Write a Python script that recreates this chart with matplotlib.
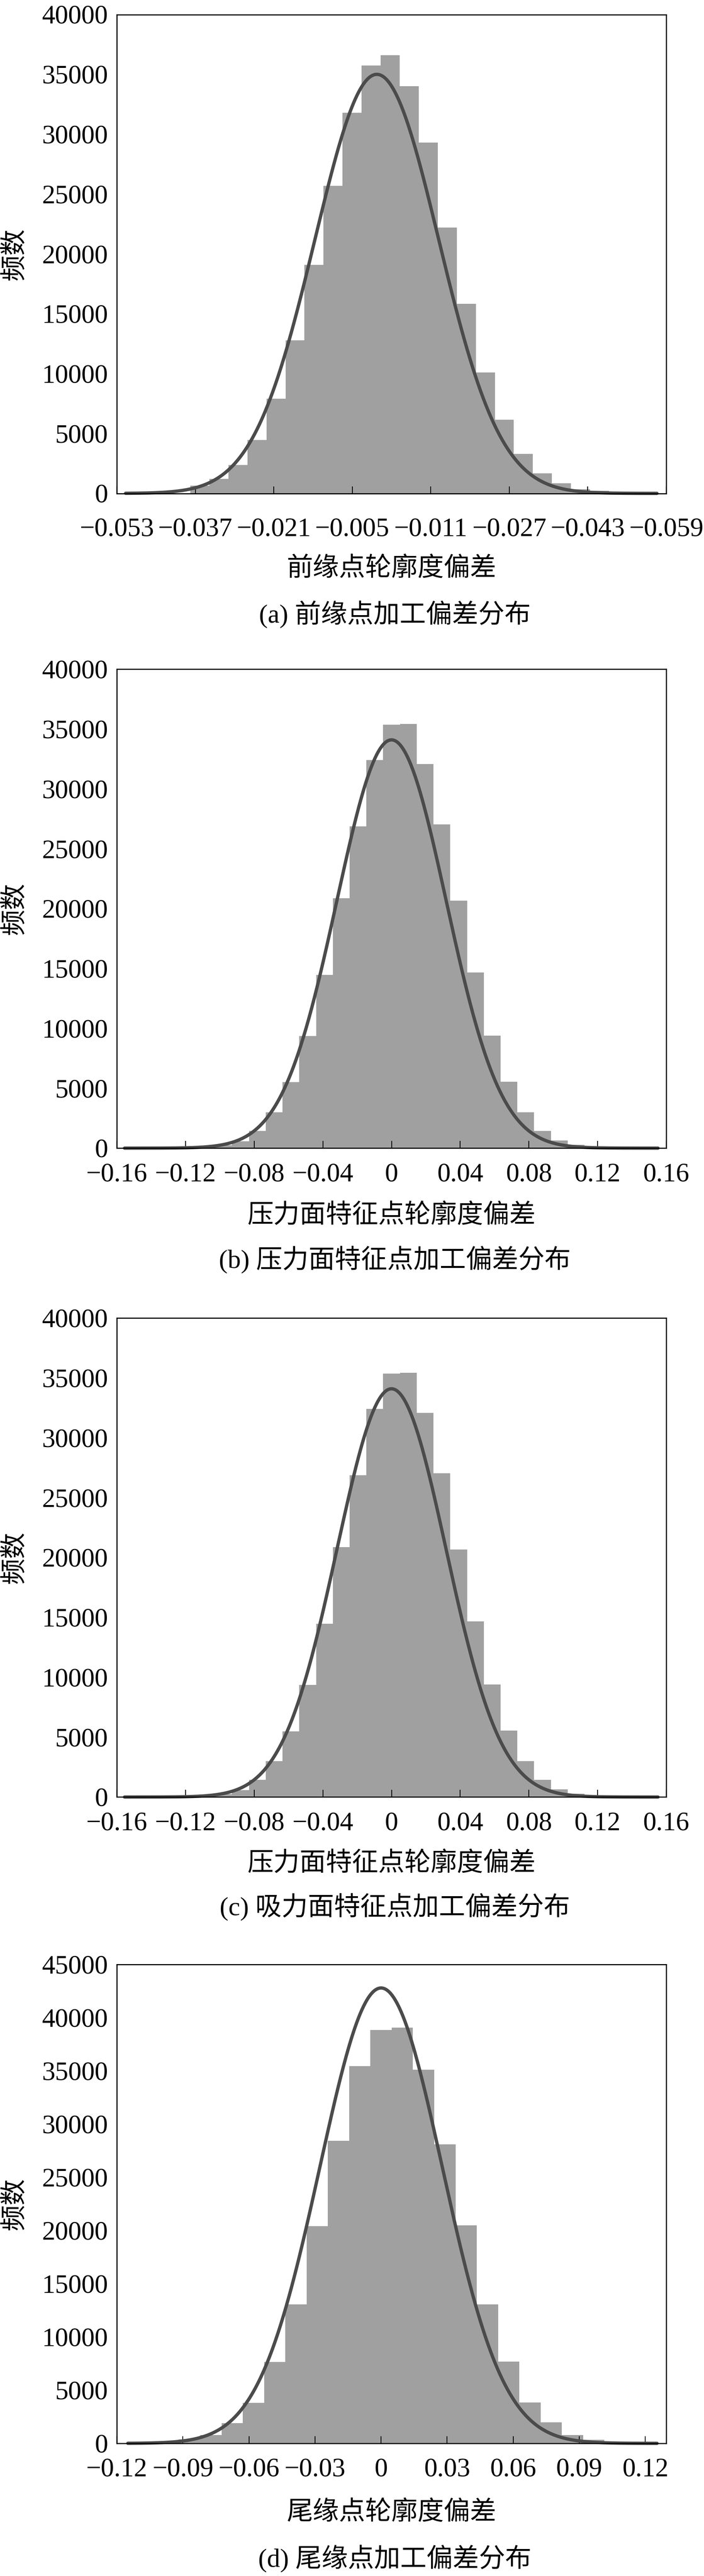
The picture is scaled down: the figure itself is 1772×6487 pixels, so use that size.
import numpy as np
import matplotlib
matplotlib.use('Agg')
import matplotlib.pyplot as plt

plt.rcParams['font.family'] = ['Liberation Serif', 'Noto Sans CJK SC']

W, H = 1772, 6487
DPI = 100
BAR_COLOR = '#a0a0a0'
CURVE_COLOR = '#4b4b4b'
M = '\u2212'

# (a) leading edge
a_counts = [650, 1200, 2380, 4450, 7900, 12800, 19100, 25700, 31800, 35750,
            36600, 34000, 29300, 22200, 15850, 10100, 6150, 3300, 1680, 850,
            360, 200, 90, 40]
a_bin_start = -0.03802
a_bin_width = 0.00388
a_fit = (0.0, 0.0126, 35000)
a_curve_range = (-0.0512, 0.0571)
a_xlim = (-0.053, 0.059)
a_xticks = [-0.053, -0.037, -0.021, -0.005, 0.011, 0.027, 0.043, 0.059]
a_xticklabels = [M + '0.053', M + '0.037', M + '0.021', M + '0.005',
                 M + '0.011', M + '0.027', M + '0.043', M + '0.059']
a_yticks = [0, 5000, 10000, 15000, 20000, 25000, 30000, 35000, 40000]

# (b) pressure side / (c) suction side (same figure in the source)
b_counts = [90, 250, 575, 1440, 2985, 5500, 9350, 14460, 20860, 26870, 32410,
            35360, 35430, 32090, 27050, 20680, 14680, 9390, 5540, 2985, 1440,
            650, 290, 100]
b_bin_start = -0.11234
b_bin_width = 0.00977
b_fit = (0.0, 0.0318, 34100)
b_curve_range = (-0.1555, 0.1552)
b_xlim = (-0.16, 0.16)
b_xticks = [-0.16, -0.12, -0.08, -0.04, 0, 0.04, 0.08, 0.12, 0.16]
b_xticklabels = [M + '0.16', M + '0.12', M + '0.08', M + '0.04', '0',
                 '0.04', '0.08', '0.12', '0.16']
b_yticks = [0, 5000, 10000, 15000, 20000, 25000, 30000, 35000, 40000]

c_counts = b_counts
c_fit = b_fit

# (d) trailing edge
d_counts = [380, 800, 1910, 3790, 7650, 13050, 20400, 28430, 35440, 38840,
            39070, 35130, 28090, 20470, 13050, 7690, 3830, 1990, 765, 340, 100]
d_bin_start = -0.09177
d_bin_width = 0.00966
d_fit = (0.0, 0.0278, 42790)
d_curve_range = (-0.115, 0.1253)
d_xlim = (-0.12, 0.1295)
d_xticks = [-0.12, -0.09, -0.06, -0.03, 0, 0.03, 0.06, 0.09, 0.12]
d_xticklabels = [M + '0.12', M + '0.09', M + '0.06', M + '0.03', '0',
                 '0.03', '0.06', '0.09', '0.12']
d_yticks = [0, 5000, 10000, 15000, 20000, 25000, 30000, 35000, 40000, 45000]

xlabels = ['前缘点轮廓度偏差', '压力面特征点轮廓度偏差',
           '压力面特征点轮廓度偏差', '尾缘点轮廓度偏差']
captions = ['(a) 前缘点加工偏差分布', '(b) 压力面特征点加工偏差分布',
            '(c) 吸力面特征点加工偏差分布', '(d) 尾缘点加工偏差分布']

fig = plt.figure(figsize=(W / DPI, H / DPI), dpi=DPI)

AX_LEFT, AX_RIGHT, AX_H = 294, 1677, 1206


def draw_panel(bottom_px, counts, bin_start, bin_width, fit, curve_range,
               xlim, xticks, xticklabels, yticks, xpad,
               xlabel, xlabel_y, caption, caption_y):
    ax = fig.add_axes([AX_LEFT / W, 1 - bottom_px / H,
                       (AX_RIGHT - AX_LEFT) / W, AX_H / H])
    edges = bin_start + bin_width * np.arange(len(counts))
    ax.bar(edges, counts, width=bin_width, align='edge', color=BAR_COLOR,
           linewidth=0, zorder=1)
    mu, sigma, peak = fit
    xs = np.linspace(curve_range[0], curve_range[1], 600)
    ax.plot(xs, peak * np.exp(-0.5 * ((xs - mu) / sigma) ** 2),
            color=CURVE_COLOR, lw=6, zorder=2, clip_on=False,
            solid_capstyle='round')
    ax.set_xlim(*xlim)
    ax.set_ylim(0, yticks[-1])
    ax.set_xticks(xticks)
    ax.set_xticklabels(xticklabels)
    ax.set_yticks(yticks)
    ax.set_yticklabels([str(v) for v in yticks])
    ax.tick_params(axis='x', direction='in', length=13, width=1.5,
                   labelsize=48, pad=xpad)
    ax.tick_params(axis='y', length=0, labelsize=48, pad=16)
    for s in ax.spines.values():
        s.set_linewidth(2.0)
        s.set_zorder(3)
    cx = (AX_LEFT + AX_RIGHT) / 2 / W
    fig.text(cx, 1 - xlabel_y / H, xlabel, ha='center', va='center',
             fontsize=47.5)
    fig.text(994 / W, 1 - caption_y / H, caption, ha='center', va='center',
             fontsize=47.5)
    fig.text(38 / W, 1 - (bottom_px - AX_H / 2) / H, '频数', rotation=90,
             ha='center', va='center', fontsize=47.5)
    return ax


draw_panel(1242.5, a_counts, a_bin_start, a_bin_width, a_fit, a_curve_range,
           a_xlim, a_xticks, a_xticklabels, a_yticks, 44,
           xlabels[0], 1432, captions[0], 1547)
draw_panel(2891.3, b_counts, b_bin_start, b_bin_width, b_fit, b_curve_range,
           b_xlim, b_xticks, b_xticklabels, b_yticks, 27,
           xlabels[1], 3061.5, captions[1], 3172)
draw_panel(4525.4, c_counts, b_bin_start, b_bin_width, c_fit, b_curve_range,
           b_xlim, b_xticks, b_xticklabels, b_yticks, 26.5,
           xlabels[2], 4693.7, captions[2], 4802)
draw_panel(6153, d_counts, d_bin_start, d_bin_width, d_fit, d_curve_range,
           d_xlim, d_xticks, d_xticklabels, d_yticks, 26.5,
           xlabels[3], 6327, captions[3], 6443)

fig.savefig('out.png', dpi=DPI, facecolor='white')
